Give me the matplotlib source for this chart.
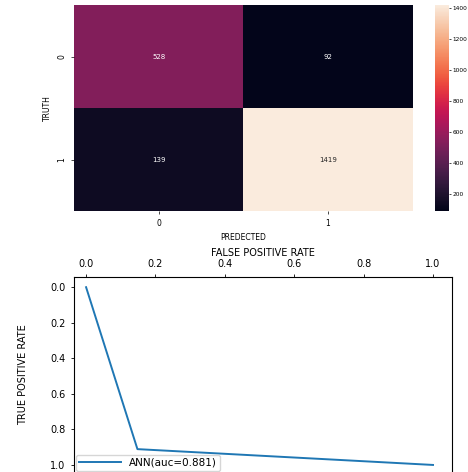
import matplotlib
matplotlib.use("Agg")
import matplotlib.pyplot as plt
import seaborn as sns
import numpy as np

# Confusion matrix of the ANN classifier
classes = ["0", "1"]
cm = np.array([[528, 92],
               [139, 1419]])

# ROC curve points
fpr = [0.0, 0.148, 1.0]
tpr = [0.0, 0.911, 1.0]
auc_value = 0.881

fig = plt.figure(figsize=(4.68, 4.72), dpi=100)

# --- confusion matrix heatmap ---
ax1 = fig.add_axes([0.158, 0.553, 0.724, 0.436])
cax = fig.add_axes([0.929, 0.553, 0.030, 0.436])
sns.heatmap(cm, annot=True, fmt="d", cmap="rocket", ax=ax1, cbar_ax=cax,
            xticklabels=classes, yticklabels=classes,
            annot_kws={"fontsize": 5})
ax1.set_xlabel("PREDECTED", fontsize=5.5)
ax1.set_ylabel("TRUTH", fontsize=5.5)
ax1.tick_params(labelsize=5.5, length=2, width=0.5)
for lbl in ax1.get_yticklabels():
    lbl.set_rotation(90)
    lbl.set_va("center")
cax.tick_params(labelsize=4.2, length=1.5, width=0.5, pad=1)
cax.set_yticks([200, 400, 600, 800, 1000, 1200, 1400])

# --- ROC curve ---
ax2 = fig.add_axes([0.158, -0.002, 0.808, 0.415])
ax2.plot(fpr, tpr, color="#1f77b4", lw=1.4, label=f"ANN(auc={auc_value})")
ax2.set_xlim(-0.035, 1.055)
ax2.set_ylim(1.045, -0.057)
ax2.xaxis.tick_top()
ax2.xaxis.set_label_position("top")
ax2.set_xticks([0.0, 0.2, 0.4, 0.6, 0.8, 1.0])
ax2.set_yticks([0.0, 0.2, 0.4, 0.6, 0.8, 1.0])
ax2.set_xlabel("FALSE POSITIVE RATE", fontsize=7, labelpad=2)
ax2.set_ylabel("TRUE POSITIVE RATE", fontsize=7, labelpad=16)
ax2.tick_params(labelsize=7, length=2.5, width=0.6)
ax2.legend(loc="lower left", fontsize=7.5, handlelength=4, borderaxespad=0.2,
           borderpad=0.3)

fig.savefig("out.png", dpi=100)
